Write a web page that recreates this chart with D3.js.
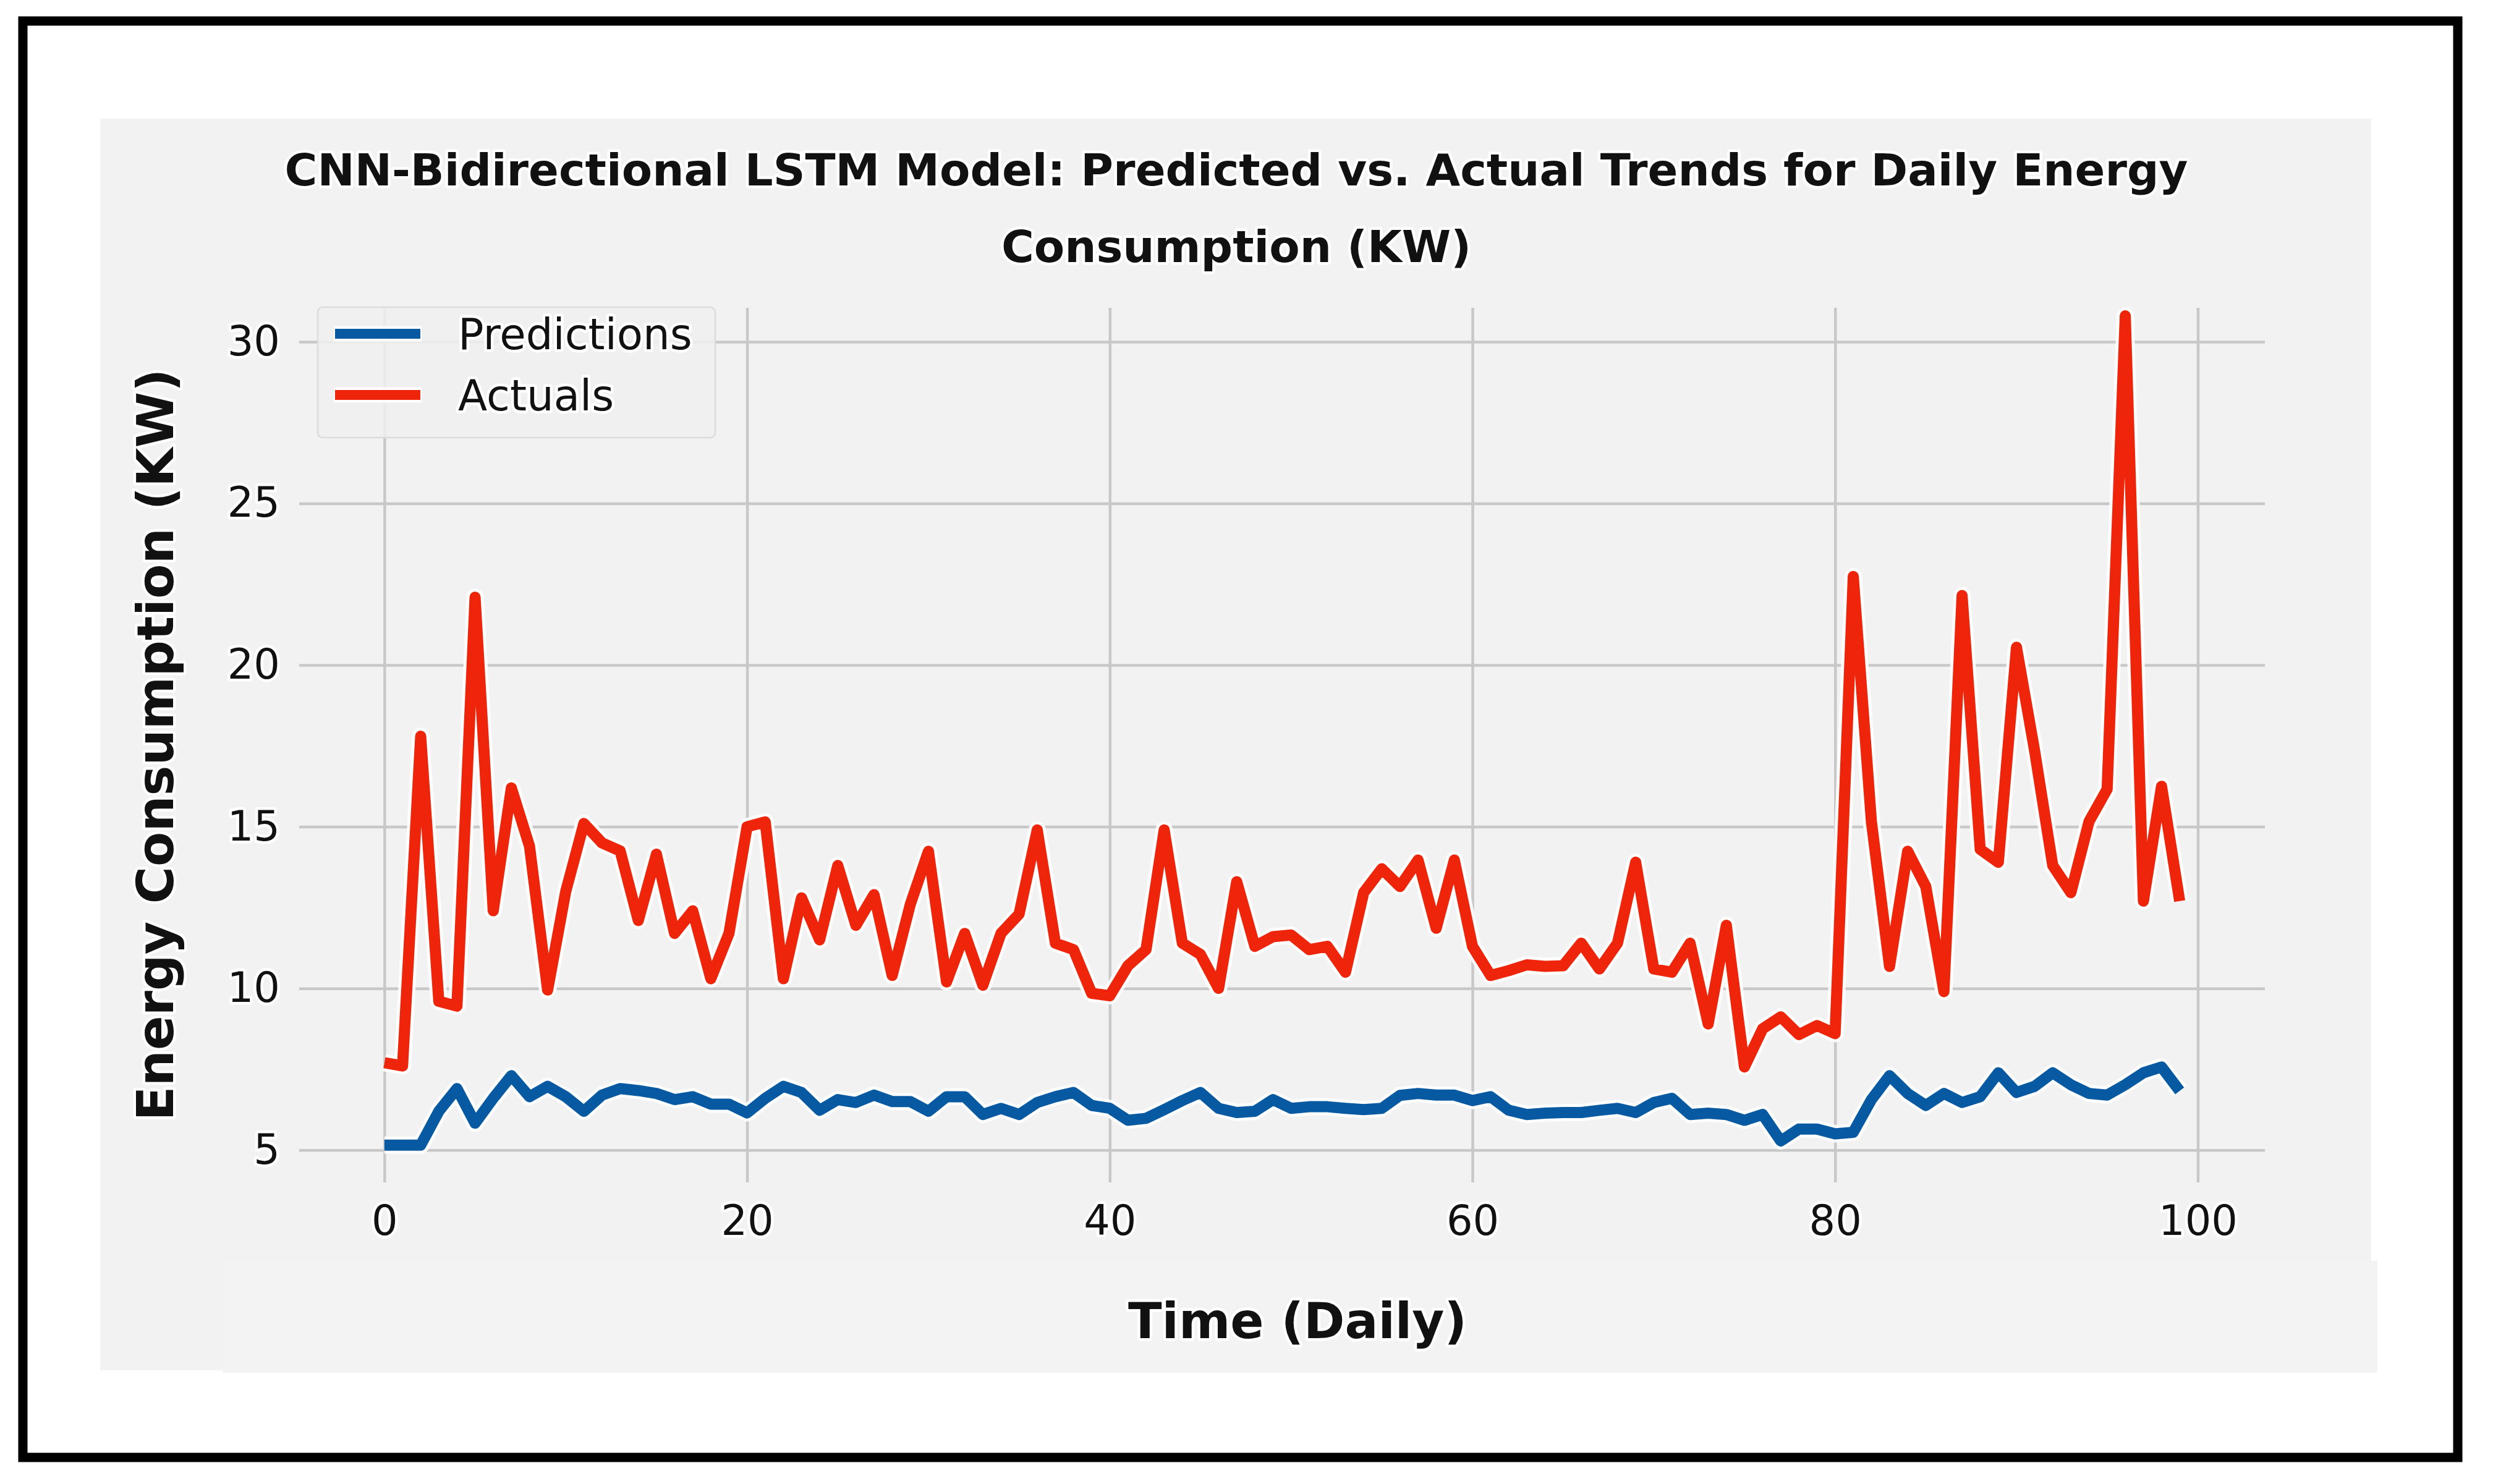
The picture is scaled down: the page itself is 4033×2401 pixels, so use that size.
<!DOCTYPE html>
<html>
<head>
<meta charset="utf-8">
<script src="https://cdn.jsdelivr.net/npm/d3@7"></script>
<style>
  body { margin: 0; background: #fff; }
  svg { display: block; }
  text { font-family: "DejaVu Sans", sans-serif; fill: #111; }
  .halo { paint-order: stroke; stroke: #fff; stroke-width: 9px; stroke-linejoin: round; }
</style>
</head>
<body>
<svg id="chart" width="4033" height="2401"></svg>
<script>
// values, day 0..99
const predictions = [
  5.15, 5.15, 5.15, 6.2, 6.9, 5.83, 6.6, 7.3, 6.65, 6.97,
  6.65, 6.2, 6.7, 6.9, 6.84, 6.75, 6.56, 6.65, 6.42, 6.42,
  6.15, 6.6, 6.97, 6.78, 6.23, 6.56, 6.47, 6.7, 6.5, 6.5,
  6.2, 6.65, 6.65, 6.1, 6.29, 6.1, 6.47, 6.65, 6.78, 6.38,
  6.29, 5.92, 5.98, 6.25, 6.53, 6.78, 6.29, 6.16, 6.2, 6.56,
  6.29, 6.34, 6.34, 6.29, 6.25, 6.29, 6.69, 6.75, 6.7, 6.7,
  6.53, 6.65, 6.23, 6.1, 6.14, 6.16, 6.16, 6.23, 6.29, 6.16,
  6.47, 6.6, 6.1, 6.14, 6.1, 5.92, 6.1, 5.28, 5.65, 5.65,
  5.5, 5.55, 6.56, 7.3, 6.75, 6.38, 6.75, 6.47, 6.65, 7.39,
  6.78, 6.97, 7.39, 7.02, 6.75, 6.7, 7.02, 7.39, 7.57, 6.83
]
const actuals = [
  7.7, 7.6, 17.8, 9.6, 9.45, 22.1, 12.4, 16.2, 14.4, 9.95,
  13.0, 15.1, 14.5, 14.25, 12.1, 14.15, 11.7, 12.4, 10.3, 11.7,
  15.0, 15.15, 10.3, 12.8, 11.5, 13.8, 11.95, 12.9, 10.4, 12.6,
  14.24, 10.2, 11.7, 10.1, 11.7, 12.3, 14.9, 11.4, 11.2, 9.85,
  9.77, 10.7, 11.2, 14.9, 11.4, 11.05, 10.0, 13.3, 11.3, 11.6,
  11.65, 11.2, 11.3, 10.5, 12.96, 13.7, 13.15, 13.97, 11.86, 13.97,
  11.3, 10.4, 10.55, 10.73, 10.68, 10.7, 11.4, 10.6, 11.4, 13.9,
  10.6, 10.5, 11.4, 8.9, 11.95, 7.57, 8.75, 9.12, 8.57, 8.85,
  8.6, 22.74, 15.16, 10.68, 14.24, 13.15, 9.9, 22.15, 14.3, 13.9,
  20.55, 17.35, 13.8, 12.96, 15.16, 16.16, 30.8, 12.7, 16.25, 12.7
]
const xTicks = [0, 20, 40, 60, 80, 100]
const yTicks = [5, 10, 15, 20, 25, 30]
const seriesNames = ['Predictions', 'Actuals']
const seriesColors = ['#0759a2', '#ee250a']

const titleLines = ['CNN-Bidirectional LSTM Model: Predicted vs. Actual Trends for Daily Energy',
                    'Consumption (KW)']
const xLabel = 'Time (Daily)'
const yLabel = 'Energy Consumption (KW)'

const svg = d3.select('#chart')

// plot box (pixels)
const plotL = 484, plotR = 3664, plotT = 498, plotB = 1913

const x = d3.scaleLinear().domain([-4.7, 103.7]).range([plotL, plotR])
const y = d3.scaleLinear().domain([4.0, 31.05]).range([plotB, plotT])

// grey panel behind everything, slightly stepped like the pasted screenshot
svg.append('rect')
  .attr('x', 162).attr('y', 192).attr('width', 3674).attr('height', 2025)
  .attr('fill', '#f2f2f2')
svg.append('rect')
  .attr('x', 360).attr('y', 2040).attr('width', 3486).attr('height', 181)
  .attr('fill', '#f3f3f3')

// outer black frame
svg.append('rect')
  .attr('x', 37).attr('y', 34).attr('width', 3939).attr('height', 2324)
  .attr('fill', 'none').attr('stroke', '#000').attr('stroke-width', 15)

// gridlines + tick labels
const yAxis = svg.append('g')
  .attr('transform', `translate(${plotL},0)`)
  .call(d3.axisLeft(y).tickValues(yTicks).tickSize(-(plotR - plotL)).tickPadding(31))
const xAxis = svg.append('g')
  .attr('transform', `translate(0,${plotB})`)
  .call(d3.axisBottom(x).tickValues(xTicks).tickSize(-(plotB - plotT)).tickPadding(37))

;[xAxis, yAxis].forEach(ax => {
  ax.select('.domain').remove()
  ax.selectAll('.tick line').attr('stroke', '#c8c8c8').attr('stroke-width', 4.5)
  ax.selectAll('.tick text')
    .attr('class', 'halo')
    .style('font-family', '"DejaVu Sans", sans-serif')
    .style('font-size', '67px')
    .attr('fill', '#0a0a0a')
})

// series lines
const line = d3.line()
  .x((d, i) => x(i))
  .y(d => y(d))

const series = [predictions, actuals]
series.forEach((values, k) => {
  svg.append('path')
    .attr('d', line(values))
    .attr('fill', 'none')
    .attr('stroke', '#fff')
    .attr('stroke-opacity', 0.85)
    .attr('stroke-width', 28)
    .attr('stroke-linejoin', 'round')
  svg.append('path')
    .attr('d', line(values))
    .attr('fill', 'none')
    .attr('stroke', seriesColors[k])
    .attr('stroke-width', 18)
    .attr('stroke-linejoin', 'round')
    .attr('stroke-linecap', 'butt')
})

// legend
const legend = svg.append('g')
legend.append('rect')
  .attr('x', 514).attr('y', 497).attr('width', 643).attr('height', 211)
  .attr('rx', 8)
  .attr('fill', '#f0f0f0').attr('fill-opacity', 0.85)
  .attr('stroke', '#dcdcdc').attr('stroke-width', 2.5)

seriesNames.forEach((name, k) => {
  const cy = 540 + k * 99
  legend.append('line')
    .attr('x1', 540).attr('x2', 682)
    .attr('y1', cy).attr('y2', cy)
    .attr('stroke', '#fff').attr('stroke-opacity', 0.85).attr('stroke-width', 25)
  legend.append('line')
    .attr('x1', 542).attr('x2', 680)
    .attr('y1', cy).attr('y2', cy)
    .attr('stroke', seriesColors[k]).attr('stroke-width', 16)
  legend.append('text')
    .attr('class', 'halo')
    .attr('x', 741).attr('y', cy + 25)
    .attr('font-size', 69)
    .attr('fill', '#0a0a0a')
    .text(name)
})

// title
titleLines.forEach((t, i) => {
  svg.append('text')
    .attr('class', 'halo')
    .attr('x', 2000).attr('y', 300 + i * 124)
    .attr('text-anchor', 'middle')
    .attr('font-size', 72)
    .attr('font-weight', 'bold')
    .attr('fill', '#000')
    .text(t)
})

// axis labels
svg.append('text')
  .attr('class', 'halo')
  .attr('x', 2099).attr('y', 2165)
  .attr('text-anchor', 'middle')
  .attr('font-size', 80)
  .attr('font-weight', 'bold')
  .attr('fill', '#000')
  .text(xLabel)

svg.append('text')
  .attr('class', 'halo')
  .attr('transform', 'translate(280,1205) rotate(-90)')
  .attr('text-anchor', 'middle')
  .attr('font-size', 82)
  .attr('font-weight', 'bold')
  .attr('fill', '#000')
  .text(yLabel)
</script>
</body>
</html>
